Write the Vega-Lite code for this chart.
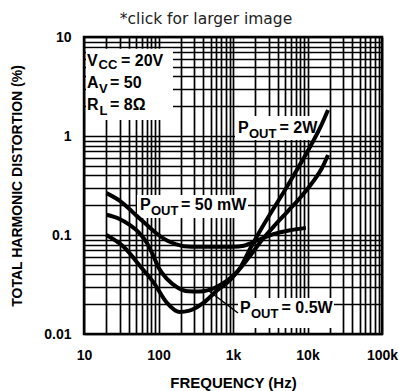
{
  "$schema": "https://vega.github.io/schema/vega-lite/v6.json",
  "width": 298,
  "height": 297,
  "autosize": "none",
  "padding": {"left": 84, "top": 37, "right": 17, "bottom": 57},
  "background": "white",
  "title": {
    "text": "*click for larger image",
    "font": "DejaVu Sans",
    "fontSize": 15.5,
    "fontWeight": "normal",
    "color": "#222",
    "anchor": "middle",
    "dx": -27,
    "dy": 21,
    "offset": 12,
    "baseline": "alphabetic"
  },
  "config": {
    "view": {"stroke": "#000", "strokeWidth": 2.5},
    "axis": {
      "domain": false,
      "ticks": false,
      "grid": true,
      "gridColor": "#000",
      "gridWidth": 1.7,
      "gridOpacity": 1,
      "labelFont": "Liberation Sans",
      "labelFontWeight": "bold",
      "labelFontSize": 14,
      "labelColor": "#000",
      "labelFlush": false,
      "labelOverlap": false,
      "titleFont": "Liberation Sans",
      "titleFontWeight": "bold",
      "titleColor": "#000"
    }
  },
  "datasets": {
    "curves": [
      {"series": "50mW", "f": 20, "v": 0.265},
      {"series": "50mW", "f": 30, "v": 0.222},
      {"series": "50mW", "f": 40, "v": 0.185},
      {"series": "50mW", "f": 50, "v": 0.158},
      {"series": "50mW", "f": 70, "v": 0.126},
      {"series": "50mW", "f": 100, "v": 0.1},
      {"series": "50mW", "f": 130, "v": 0.088},
      {"series": "50mW", "f": 170, "v": 0.081},
      {"series": "50mW", "f": 220, "v": 0.077},
      {"series": "50mW", "f": 350, "v": 0.076},
      {"series": "50mW", "f": 600, "v": 0.076},
      {"series": "50mW", "f": 1000, "v": 0.076},
      {"series": "50mW", "f": 1400, "v": 0.078},
      {"series": "50mW", "f": 2100, "v": 0.088},
      {"series": "50mW", "f": 3000, "v": 0.098},
      {"series": "50mW", "f": 4000, "v": 0.105},
      {"series": "50mW", "f": 6000, "v": 0.112},
      {"series": "50mW", "f": 9500, "v": 0.118},
      {"series": "0.5W", "f": 20, "v": 0.16},
      {"series": "0.5W", "f": 30, "v": 0.145},
      {"series": "0.5W", "f": 40, "v": 0.128},
      {"series": "0.5W", "f": 55, "v": 0.105},
      {"series": "0.5W", "f": 70, "v": 0.083},
      {"series": "0.5W", "f": 85, "v": 0.062},
      {"series": "0.5W", "f": 100, "v": 0.047},
      {"series": "0.5W", "f": 130, "v": 0.036},
      {"series": "0.5W", "f": 180, "v": 0.0295},
      {"series": "0.5W", "f": 250, "v": 0.027},
      {"series": "0.5W", "f": 350, "v": 0.0268},
      {"series": "0.5W", "f": 600, "v": 0.0298},
      {"series": "0.5W", "f": 1132, "v": 0.0423},
      {"series": "0.5W", "f": 1690, "v": 0.0614},
      {"series": "0.5W", "f": 2449, "v": 0.0889},
      {"series": "0.5W", "f": 3664, "v": 0.1262},
      {"series": "0.5W", "f": 5472, "v": 0.1746},
      {"series": "0.5W", "f": 7925, "v": 0.2366},
      {"series": "0.5W", "f": 11490, "v": 0.335},
      {"series": "0.5W", "f": 15660, "v": 0.475},
      {"series": "0.5W", "f": 18850, "v": 0.643},
      {"series": "2W", "f": 20, "v": 0.1},
      {"series": "2W", "f": 34, "v": 0.076},
      {"series": "2W", "f": 58, "v": 0.0475},
      {"series": "2W", "f": 87, "v": 0.0327},
      {"series": "2W", "f": 130, "v": 0.0206},
      {"series": "2W", "f": 190, "v": 0.0167},
      {"series": "2W", "f": 260, "v": 0.0172},
      {"series": "2W", "f": 400, "v": 0.0206},
      {"series": "2W", "f": 610, "v": 0.0275},
      {"series": "2W", "f": 912, "v": 0.0351},
      {"series": "2W", "f": 1242, "v": 0.0464},
      {"series": "2W", "f": 1690, "v": 0.0722},
      {"series": "2W", "f": 2301, "v": 0.1097},
      {"series": "2W", "f": 3334, "v": 0.1746},
      {"series": "2W", "f": 4989, "v": 0.285},
      {"series": "2W", "f": 7451, "v": 0.475},
      {"series": "2W", "f": 10808, "v": 0.774},
      {"series": "2W", "f": 14720, "v": 1.205},
      {"series": "2W", "f": 18850, "v": 1.833}
    ],
    "boxes": [
      {"f": 10.64, "f2": 156.5, "v": 7.6, "v2": 1.45},
      {"f": 1064, "f2": 14720, "v": 1.592, "v2": 0.911},
      {"f": 51.45, "f2": 1590, "v": 0.2535, "v2": 0.1485},
      {"f": 1167, "f2": 22680, "v": 0.0231, "v2": 0.0115}
    ],
    "pointer": [
      {"f": 476, "f2": 1167, "v": 0.02719, "v2": 0.0163}
    ],
    "mainText": [
      {"t": "V", "f": 10.97, "v": 5.095},
      {"t": "= 20V", "f": 31.38, "v": 5.095},
      {"t": "A", "f": 10.97, "v": 3.053},
      {"t": "= 50", "f": 22.34, "v": 3.053},
      {"t": "R", "f": 10.97, "v": 1.83},
      {"t": "= 8Ω", "f": 22.34, "v": 1.83},
      {"t": "P", "f": 1167, "v": 1.072},
      {"t": "= 2W", "f": 4210, "v": 1.072},
      {"t": "P", "f": 56.45, "v": 0.1789},
      {"t": "= 50 mW", "f": 200.5, "v": 0.1789},
      {"t": "P", "f": 1242, "v": 0.0163},
      {"t": "= 0.5W", "f": 4477, "v": 0.0163}
    ],
    "subText": [
      {"t": "CC", "f": 15.65, "v": 4.752},
      {"t": "V", "f": 15.9, "v": 2.719},
      {"t": "L", "f": 16.15, "v": 1.63},
      {"t": "OUT", "f": 1640, "v": 0.9546},
      {"t": "OUT", "f": 79.3, "v": 0.1592},
      {"t": "OUT", "f": 1744, "v": 0.01451}
    ]
  },
  "encoding": {
    "x": {
      "field": "f",
      "type": "quantitative",
      "scale": {"type": "log", "domain": [10, 100000], "nice": false},
      "axis": {
        "title": "FREQUENCY (Hz)",
        "titleFontSize": 15,
        "values": [10, 20, 30, 40, 50, 60, 70, 80, 90, 100, 200, 300, 400, 500, 600, 700, 800, 900, 1000, 2000, 3000, 4000, 5000, 6000, 7000, 8000, 9000, 10000, 20000, 30000, 40000, 50000, 60000, 70000, 80000, 90000, 100000],
        "labelExpr": "datum.value == 10 ? '10' : datum.value == 100 ? '100' : datum.value == 1000 ? '1k' : datum.value == 10000 ? '10k' : datum.value == 100000 ? '100k' : ''",
        "labelPadding": 14,
        "titleX": 149,
        "titleY": 48,
        "titleAlign": "center",
        "titleBaseline": "middle"
      }
    },
    "y": {
      "field": "v",
      "type": "quantitative",
      "scale": {"type": "log", "domain": [0.01, 10], "nice": false},
      "axis": {
        "title": "TOTAL HARMONIC DISTORTION (%)",
        "titleFontSize": 14,
        "values": [0.01, 0.02, 0.03, 0.04, 0.05, 0.06, 0.07, 0.08, 0.09, 0.1, 0.2, 0.3, 0.4, 0.5, 0.6, 0.7, 0.8, 0.9, 1, 2, 3, 4, 5, 6, 7, 8, 9, 10],
        "labelExpr": "datum.value == 10 ? '10' : datum.value == 1 ? '1' : datum.value == 0.1 ? '0.1' : datum.value == 0.01 ? '0.01' : ''",
        "labelPadding": 13,
        "labelBaseline": "middle",
        "titleX": -67,
        "titleY": 148.5,
        "titleAngle": -90,
        "titleAlign": "center",
        "titleBaseline": "middle"
      }
    }
  },
  "layer": [
    {
      "data": {"name": "boxes"},
      "mark": {"type": "rect", "fill": "white", "stroke": null},
      "encoding": {
        "x2": {"field": "f2"},
        "y2": {"field": "v2"}
      }
    },
    {
      "data": {"name": "curves"},
      "mark": {"type": "line", "color": "#000", "strokeWidth": 4, "interpolate": "monotone"},
      "encoding": {
        "detail": {"field": "series"}
      }
    },
    {
      "data": {"name": "pointer"},
      "mark": {"type": "rule", "color": "#000", "strokeWidth": 1.5},
      "encoding": {
        "x2": {"field": "f2"},
        "y2": {"field": "v2"}
      }
    },
    {
      "data": {"name": "mainText"},
      "mark": {"type": "text", "align": "left", "baseline": "alphabetic", "font": "Liberation Sans", "fontWeight": "bold", "fontSize": 16, "color": "#000"},
      "encoding": {
        "text": {"field": "t"}
      }
    },
    {
      "data": {"name": "subText"},
      "mark": {"type": "text", "align": "left", "baseline": "alphabetic", "font": "Liberation Sans", "fontWeight": "bold", "fontSize": 13, "color": "#000"},
      "encoding": {
        "text": {"field": "t"}
      }
    }
  ]
}
